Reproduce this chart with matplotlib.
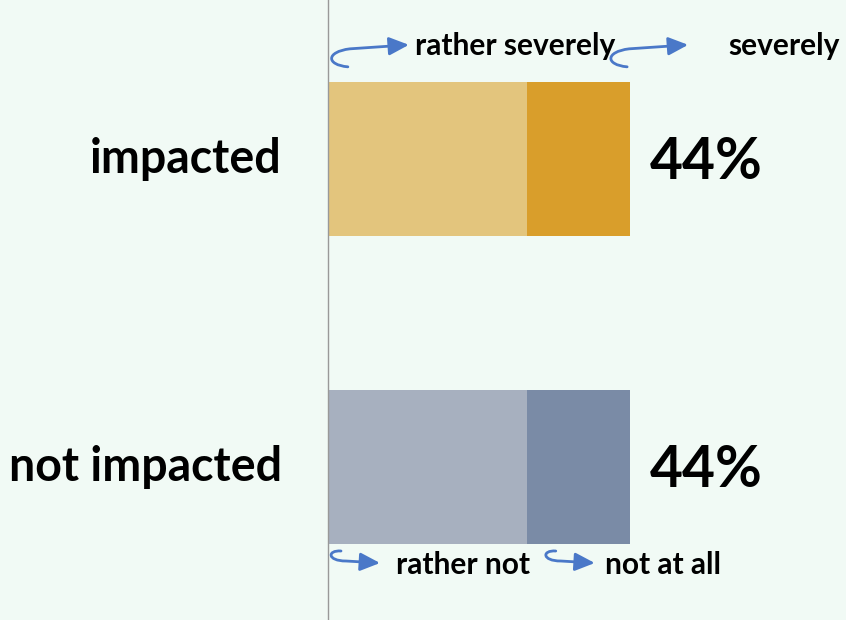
import matplotlib.pyplot as plt
from matplotlib.patches import FancyArrowPatch
from matplotlib.path import Path

plt.rcParams['font.family'] = ['Lato', 'DejaVu Sans']

# values (percent)
groups = ['not impacted', 'impacted']
mild = [29, 29]      # rather not / rather severely
strong = [15, 15]    # not at all / severely
totals = ['44%', '44%']
light_colors = ['#a7b0bf', '#e3c57d']
dark_colors = ['#7a8ba6', '#d99e2b']

bg = '#f1faf5'
blue = '#4a78c8'

W, H = 8.46, 6.2
fig = plt.figure(figsize=(W, H), dpi=100, facecolor=bg)
ax = fig.add_axes([0, 0, 1, 1], facecolor=bg)

xlim = (-47.8, 75.5)
ylim = (-0.497, 1.516)
ax.set_xlim(xlim)
ax.set_ylim(ylim)
ax.axis('off')

# pixel -> data unit factors (for the small curled arrows)
px_x = (xlim[1] - xlim[0]) / (W * 100)
px_y = (ylim[1] - ylim[0]) / (H * 100)

ypos = [0, 1]
ax.barh(ypos, mild, height=0.5, color=light_colors)
ax.barh(ypos, strong, left=mild, height=0.5, color=dark_colors)

for y, m, s, t, g in zip(ypos, mild, strong, totals, groups):
    ax.text(m + s + 2.9, y - 0.013, t, fontsize=41, fontweight='bold',
            va='center', ha='left')
    ax.text(-6.7, y, g, fontsize=33.5, fontweight='bold',
            va='center', ha='right')

ax.axvline(0, color='#999999', lw=1)


def hook(x0, y0, offsets):
    # curled arrow starting at (x0, y0); offsets in pixels (x right, y down)
    verts = [(x0 + dx * px_x, y0 - dy * px_y) for dx, dy in [(0, 0)] + offsets]
    codes = [Path.MOVETO, Path.CURVE4, Path.CURVE4, Path.CURVE4, Path.LINETO]
    p = FancyArrowPatch(path=Path(verts, codes),
                        arrowstyle='-|>,head_length=12,head_width=5.5',
                        color=blue, lw=2, mutation_scale=1)
    ax.add_patch(p)


up_curl = [(-22, -2), (-22, -15), (2, -18), (61, -22)]
down_curl = [(-14, -1), (-14, 10), (5, 10), (39, 12)]

top = 1 + 0.25
bot = -0.25
lab = dict(fontsize=21.5, fontweight='bold', va='center', ha='left')

# top labels (impacted)
hook(2.9, top + 0.049, up_curl)
ax.text(12.7, top + 0.117, 'rather severely', **lab)
hook(mild[1] + strong[1] - 0.4, top + 0.049, up_curl)
ax.text(mild[1] + strong[1] + 14.4, top + 0.117, 'severely', **lab)

# bottom labels (not impacted)
hook(1.9, bot - 0.023, down_curl)
ax.text(9.9, bot - 0.068, 'rather not', **lab)
hook(mild[0] + 4.2, bot - 0.023, down_curl)
ax.text(mild[0] + 11.4, bot - 0.068, 'not at all', **lab)

fig.savefig('out.png', dpi=100, facecolor=bg)
